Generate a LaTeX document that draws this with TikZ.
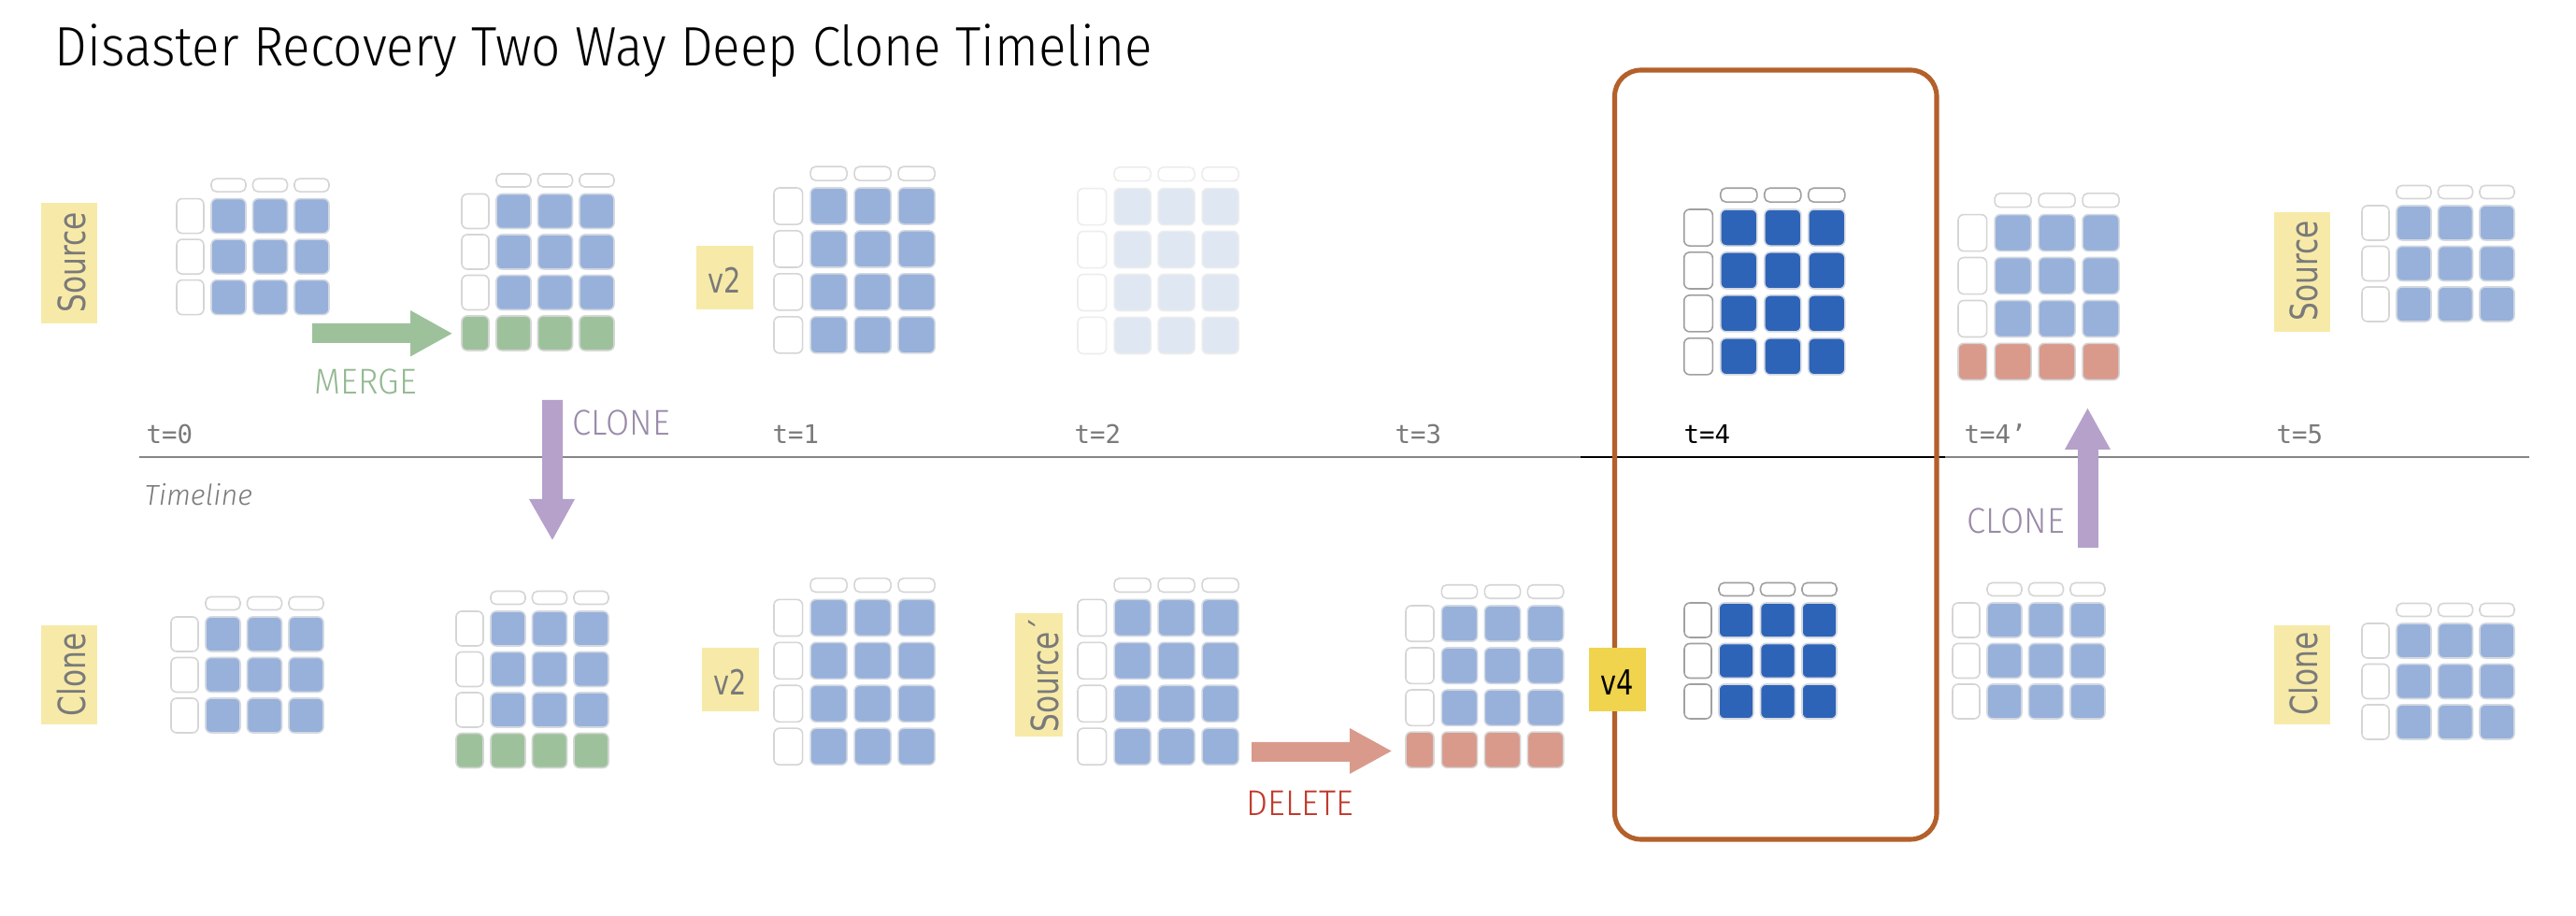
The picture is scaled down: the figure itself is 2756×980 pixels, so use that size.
\documentclass[tikz,border=0pt]{standalone}
\usepackage{fontspec}
\setmainfont{Fira Sans}
\IfFontExistsTF{Fira Sans Light}{%
  \newfontfamily\titlef{Fira Sans Light}[FakeStretch=0.925]
  \newfontfamily\condf{Fira Sans Light}[FakeStretch=0.95]
  \newfontfamily\itf{Fira Sans Light Italic}
}{%
  \newfontfamily\titlef{Fira Sans}[FakeStretch=0.91]
  \newfontfamily\condf{Fira Sans}[FakeStretch=0.92]
  \newfontfamily\itf{Fira Sans Italic}
}
\newfontfamily\lblfont{DejaVu Sans}[FakeStretch=0.78]
\newfontfamily\tmono{DejaVu Sans Mono}
\definecolor{cblue}{HTML}{97B1DB}
\definecolor{cfade}{HTML}{DFE7F3}
\definecolor{cdark}{HTML}{2E64B8}
\definecolor{cgreen}{HTML}{9DC29B}
\definecolor{cred}{HTML}{D99A8C}
\definecolor{cyel}{HTML}{F7EAA8}
\definecolor{cyeltwo}{HTML}{F0D44E}
\definecolor{corange}{HTML}{B4602A}
\definecolor{cpurple}{HTML}{B5A1CA}
\definecolor{tgray}{HTML}{7A7A7A}
\definecolor{tgreen}{HTML}{94B991}
\definecolor{tpurple}{HTML}{9A8AA8}
\definecolor{tred}{HTML}{C0392B}
\definecolor{edge}{HTML}{D5D5D5}
\definecolor{edgelt}{HTML}{EDEDED}
\definecolor{edgedk}{HTML}{A0A0A0}
\definecolor{edgecell}{HTML}{D3D8E0}
\tikzset{
  cellst/.style={line width=0.45pt, rounded corners=0.06cm},
  pillst/.style={line width=0.45pt, fill=white, rounded corners=0.055cm},
  tlab/.style={inner sep=0pt, anchor=base west, text=tgray, font=\tmono\fontsize{7.8}{9}\selectfont},
  oplab/.style={inner sep=0pt, anchor=base west, font=\condf\fontsize{10.9}{12}\selectfont},
  yelbox/.style={fill=cyel, draw=none},
  sidelab/.style={inner sep=0pt, anchor=base, rotate=90, text=tgray, font=\lblfont\fontsize{11.4}{13}\selectfont},
  vlab/.style={inner sep=0pt, anchor=base, text=tgray, font=\lblfont\fontsize{10.5}{12}\selectfont},
  tline/.style={draw=gray!95, line width=0.6pt},
}
\newcommand\dgrid[7]{%
\begin{scope}[shift={(#1,#2)},scale=#3]
\foreach \k in {0,1,2}{\draw[pillst,draw=#6] ({37+44.5*\k},-21.5) rectangle ++(37,14);}
\foreach \r in {1,...,#7}{%
  \draw[cellst,fill=white,draw=#6] (0,{43.5*(\r-1)}) rectangle ++(29,37);
  \foreach \k in {0,1,2}{\draw[cellst,fill=#4,draw=#5] ({37+44.5*\k},{43.5*(\r-1)}) rectangle ++(37,37);}
}
\end{scope}}
\newcommand\xrow[5]{%
\begin{scope}[shift={(#1,#2)},scale=#3]
  \draw[cellst,fill=#5,draw=edge] (0,{43.5*#4}) rectangle ++(29,37);
  \foreach \k in {0,1,2}{\draw[cellst,fill=#5,draw=edge] ({37+44.5*\k},{43.5*#4}) rectangle ++(37,37);}
\end{scope}}
\begin{document}
\begin{tikzpicture}[x=0.01cm,y=-0.01cm]
\useasboundingbox (0,0) rectangle (2756,980);
\fill[white] (0,0) rectangle (2756,980);

% title
\node[inner sep=0pt, anchor=base west, font=\titlef\fontsize{16.9}{20}\selectfont] (title) at (58,71) {Disaster Recovery Two Way Deep Clone Timeline};

% timeline
\coordinate (tlA) at (149,489);
\coordinate (tlB) at (1691,489);
\coordinate (tlC) at (2081,489);
\coordinate (tlD) at (2706,489);
\draw[tline] (tlA) -- (tlB);
\draw[draw=black, line width=0.6pt] (tlB) -- (tlC);
\draw[tline] (tlC) -- (tlD);
\node[inner sep=0pt, anchor=base west, text=tgray, font=\itf\fontsize{8.7}{10}\selectfont] (tlname) at (154,541) {Timeline};

\node[tlab] (t0) at (156,475) {t=0};
\node[tlab] (t1) at (826,475) {t=1};
\node[tlab] (t2) at (1149,475) {t=2};
\node[tlab] (t3) at (1492,475) {t=3};
\node[tlab, text=black] (t4) at (1801,475) {t=4};
\node[tlab] (t4p) at (2101,475) {t=4’};
\node[tlab] (t5) at (2435,475) {t=5};

% top row grids
\dgrid{189}{212.6}{1}{cblue}{edgecell}{edge}{3}
\dgrid{494}{207.5}{1}{cblue}{edgecell}{edge}{3}
\xrow{494}{207.5}{1}{3}{cgreen}
\dgrid{828}{201}{1.056}{cblue}{edgecell}{edge}{4}
\dgrid{1153}{201.6}{1.056}{cfade}{edgelt}{edgelt}{4}
\dgrid{1801.7}{224}{1.056}{cdark}{edgecell}{edgedk}{4}
\dgrid{2095}{229.6}{1.056}{cblue}{edgecell}{edge}{3}
\xrow{2095}{229.6}{1.056}{3}{cred}
\dgrid{2527}{220}{1}{cblue}{edgecell}{edge}{3}

% bottom row grids
\dgrid{183}{660}{1}{cblue}{edgecell}{edge}{3}
\dgrid{488}{654}{1}{cblue}{edgecell}{edge}{3}
\xrow{488}{654}{1}{3}{cgreen}
\dgrid{828}{641.4}{1.056}{cblue}{edgecell}{edge}{4}
\dgrid{1153}{641.4}{1.056}{cblue}{edgecell}{edge}{4}
\dgrid{1504}{648}{1.035}{cblue}{edgecell}{edge}{3}
\xrow{1504}{648}{1.035}{3}{cred}
\dgrid{1802}{645}{1}{cdark}{edgecell}{edgedk}{3}
\dgrid{2089}{645}{1}{cblue}{edgecell}{edge}{3}
\dgrid{2527}{667}{1}{cblue}{edgecell}{edge}{3}

% arrows
\fill[cgreen] (334,346) -- (439,346) -- (439,332) -- (483.5,356.8) -- (439,381.5) -- (439,367) -- (334,367) -- cycle;
\fill[cpurple] (580,428) -- (602,428) -- (602,534) -- (615,534) -- (591,577.6) -- (566,534) -- (580,534) -- cycle;
\fill[cred] (1339,794) -- (1444,794) -- (1444,779) -- (1488.6,803.5) -- (1444,828) -- (1444,815) -- (1339,815) -- cycle;
\fill[cpurple] (2223,586) -- (2245,586) -- (2245,481) -- (2258,481) -- (2233.5,437) -- (2209,481) -- (2223,481) -- cycle;

\node[oplab, text=tgreen] (merge) at (336,422) {MERGE};
\node[oplab, text=tpurple] (clone1) at (612,465.6) {CLONE};
\node[oplab, text=tred] (delete) at (1333,873) {DELETE};
\node[oplab, text=tpurple] (clone2) at (2104,571) {CLONE};

% highlight box
\draw[corange, line width=1.45pt, rounded corners=0.28cm] (1727.5,75) rectangle (2072,898);

% side labels
\fill[yelbox] (44,217) rectangle (104,346);
\node[sidelab] (srcA) at (91,281) {Source};
\fill[yelbox] (44,669) rectangle (104,774.6);
\node[sidelab] (clnA) at (91,721.8) {Clone};
\fill[yelbox] (2433,227) rectangle (2493,355.4);
\node[sidelab] (srcB) at (2479,290) {Source};
\fill[yelbox] (2433,669.5) rectangle (2493,775);
\node[sidelab] (clnB) at (2479,721) {Clone};
\fill[yelbox] (1086,656) rectangle (1137,788);
\node[sidelab] (srcP) at (1132,722) {Source´};

\fill[yelbox] (745,263) rectangle (806,330.6);
\node[vlab] (vtwoA) at (775.5,314) {v2};
\fill[yelbox] (751,693) rectangle (812,761);
\node[vlab] (vtwoB) at (781.5,744) {v2};
\fill[cyeltwo] (1700,693) rectangle (1761,761);
\node[vlab, text=black] (vfour) at (1730.5,744) {v4};
\end{tikzpicture}
\end{document}
